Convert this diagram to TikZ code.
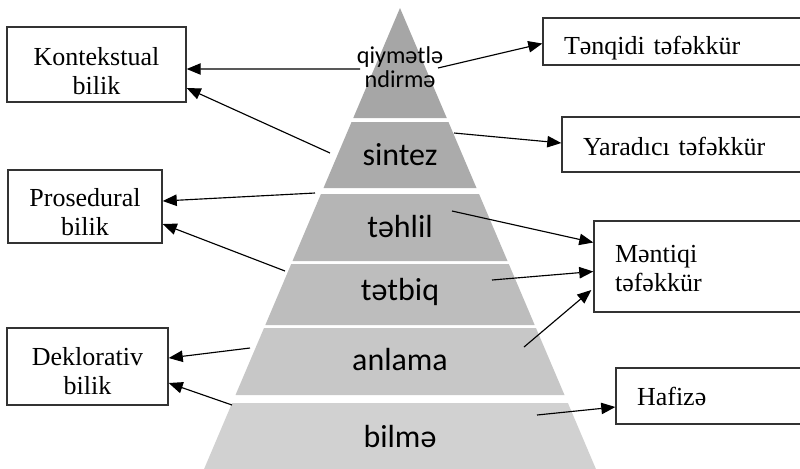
\documentclass[tikz,border=0pt]{standalone}
\usepackage{fontspec}
\setmainfont{Liberation Serif}
\newfontfamily\pyrfont{Carlito}
\usetikzlibrary{arrows.meta}

\begin{document}
\begin{tikzpicture}[x=0.02cm,y=-0.02cm,>={Triangle[length=8pt,width=6.5pt]},
  box/.style={draw=black!80,line width=0.8pt,inner sep=0pt,font=\fontsize{14.8}{16.6}\selectfont},
  lbox/.style={box,align=center},
  rbox/.style={box,align=left,inner xsep=0.42cm},
  lvl/.style={font=\pyrfont\fontsize{18.2}{21}\selectfont,anchor=base},
  link/.style={->,line width=0.65pt}]

\path[use as bounding box,clip] (0,0) rectangle (800,468);

% pyramid
\fill[black!35] (400,8) -- (446.75,118) -- (353.25,118) -- cycle;
\fill[black!33] (351.55,122) -- (448.45,122) -- (476.5,188) -- (323.5,188) -- cycle;
\fill[black!29] (320.95,194) -- (479.05,194) -- (507.5,261) -- (292.5,261) -- cycle;
\fill[black!26] (291.2,264) -- (508.8,264) -- (534.7,325) -- (265.3,325) -- cycle;
\fill[black!22] (264,328) -- (536,328) -- (564.5,395) -- (235.5,395) -- cycle;
\fill[black!18] (232.1,403) -- (567.9,403) -- (596.35,470) -- (203.65,470) -- cycle;

\node[font=\pyrfont\fontsize{13.8}{13.6}\selectfont,align=center] (qiy) at (400,67) {qiymətlə\\ndirmə};
\node[lvl] (sin) at (400,165) {sintez};
\node[lvl] (teh) at (400,237) {təhlil};
\node[lvl] (tet) at (400,300) {tətbiq};
\node[lvl] (anl) at (400,370) {anlama};
\node[lvl] (bil) at (400,447) {bilmə};

% boxes
\node[lbox,minimum width=3.58cm,minimum height=1.5cm,text height=34pt]    (kont) at (96.5,64.5) {Kontekstual\\bilik};
\node[lbox,minimum width=3.08cm,minimum height=1.46cm,text height=33.5pt] (pros) at (85,206.5)  {Prosedural\\bilik};
\node[lbox,minimum width=3.22cm,minimum height=1.54cm,text height=32.4pt] (dekl) at (87.5,366.5) {Deklorativ\\bilik};

\node[rbox,text width=4.54cm,minimum height=0.94cm,text height=18pt]   (tenq) at (677.5,41.5) {Tənqidi təfəkkür};
\node[rbox,text width=4.16cm,minimum height=1.1cm,text height=12.3pt]  (yara) at (687,144.5)  {Yaradıcı təfəkkür};
\node[rbox,text width=3.52cm,minimum height=1.82cm,text height=12.3pt] (ment) at (703,266.5)  {Məntiqi\\təfəkkür};
\node[rbox,text width=3.08cm,minimum height=1.12cm] (hafi) at (714,396)    {Hafizə};

% free ends on the pyramid
\coordinate (qr) at (438,68);
\coordinate (ql) at (360,69);
\coordinate (sl) at (330,153);
\coordinate (sr) at (454,133);
\coordinate (hl) at (315,193);
\coordinate (hr) at (452,211);
\coordinate (tl) at (285,271);
\coordinate (tr) at (492,280);
\coordinate (al) at (250,348);
\coordinate (ar) at (524,347);
\coordinate (bl) at (232,405);
\coordinate (br) at (537,415);

\path[link] (qr) edge ([shift={(0,2)}]tenq.west)
            (ql) edge ([shift={(0,4.5)}]kont.east)
            (sl) edge ([shift={(0,23.5)}]kont.east)
            (sr) edge ([shift={(0,-1.5)}]yara.west)
            (hl) edge ([shift={(0,-5.5)}]pros.east)
            (tl) edge ([shift={(0,17.5)}]pros.east)
            (hr) edge ([shift={(0,-24)}]ment.west)
            (tr) edge ([shift={(0,5)}]ment.west)
            (ar) edge ([shift={(-2,23.5)}]ment.west)
            (al) edge ([shift={(0,-8.5)}]dekl.east)
            (bl) edge ([shift={(0,16.5)}]dekl.east)
            (br) edge ([shift={(0,11)}]hafi.west);
\end{tikzpicture}
\end{document}
